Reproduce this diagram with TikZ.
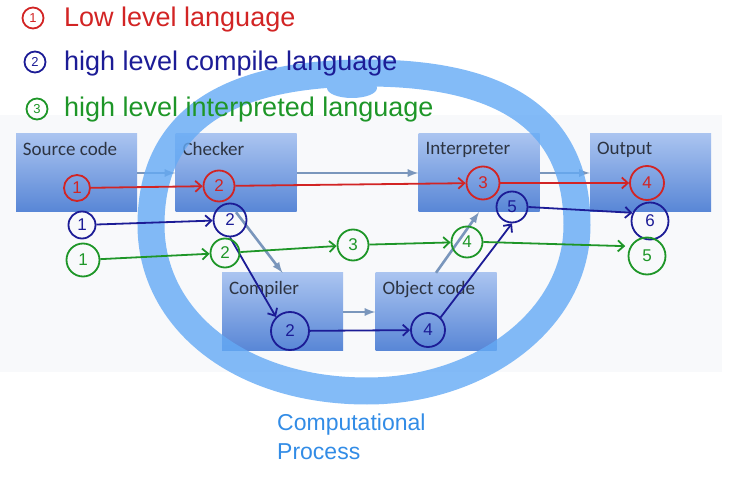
\documentclass[tikz,border=0pt]{standalone}
\usepackage{fontspec}
\setmainfont{Liberation Sans}
\newfontfamily\slidefont{Carlito}
\usepackage{tikz}
\usetikzlibrary{calc,arrows.meta}

\definecolor{hred}{RGB}{210,36,36}
\definecolor{hblue}{RGB}{28,28,150}
\definecolor{hgreen}{RGB}{30,150,40}
\definecolor{hsky}{RGB}{50,140,230}
\definecolor{ringblue}{RGB}{100,170,245}
\definecolor{boxtop}{RGB}{170,196,240}
\definecolor{boxbot}{RGB}{88,134,214}
\definecolor{flowgray}{RGB}{122,150,188}
\definecolor{labelgray}{RGB}{45,52,66}
\definecolor{slidebg}{RGB}{248,249,251}

\tikzset{
  box/.style={minimum width=121pt, minimum height=78pt, inner sep=0pt,
    top color=boxtop, bottom color=boxbot},
  boxlabel/.style={anchor=north west, xshift=7pt, yshift=-8pt, inner sep=0pt,
    text=labelgray, font=\slidefont\fontsize{19}{19}\selectfont},
  flow/.style={-latex, line width=2.6pt, draw=flowgray},
  handno/.style={circle, draw, line width=1.8pt, inner sep=0pt,
    font=\fontsize{17}{17}\selectfont},
  hand/.style={line width=1.8pt, -{Straight Barb[length=6pt,width=11pt]}},
  legend/.style={anchor=west, inner sep=0pt, font=\fontsize{27}{27}\selectfont},
}

\begin{document}
\begin{tikzpicture}[x=1pt, y=-1pt]
  \useasboundingbox (0,0) rectangle (740,481);
  \fill[slidebg] (0,115) rectangle (722,372);

  % slide boxes
  \node[box, label={[boxlabel]north west:Source code}] (srccode) at (76.5,173) {};
  \node[box, label={[boxlabel]north west:Checker}] (checker) at (236,173) {};
  \node[box, label={[boxlabel]north west:Interpreter}] (interp) at (479,173) {};
  \node[box, label={[boxlabel]north west:Output}] (output) at (650.5,173) {};
  \node[box, label={[boxlabel]north west:Compiler}] (compiler) at (282.5,312) {};
  \node[box, label={[boxlabel]north west:Object code}] (objcode) at (436,312) {};

  \draw[flow] (srccode) -- (checker);
  \draw[flow] (checker) -- (interp);
  \draw[flow] (interp) -- (output);
  \draw[flow] (checker.south) -- (compiler.north);
  \draw[flow] (compiler) -- (objcode);
  \draw[flow] (objcode.north) -- (interp.south);

  % ring
  \begin{scope}[transparency group, opacity=0.8]
    \draw[ringblue, line width=27pt] (367,73)
      .. controls (510,73) and (577,125) .. (577,225)
      .. controls (577,320) and (480,391) .. (367,391)
      .. controls (240,391) and (151,320) .. (151,225)
      .. controls (151,115) and (235,73) .. cycle;
    \fill[ringblue] (352,88) ellipse (25pt and 10pt);
  \end{scope}

  % legend
  \node[handno, hred, minimum size=21pt, font=\fontsize{13}{13}\selectfont] (l1) at (33,18) {1};
  \node[legend, hred] (t1) at (64,20) {Low level language};
  \node[handno, hblue, minimum size=21pt, font=\fontsize{13}{13}\selectfont] (l2) at (35,62) {2};
  \node[legend, hblue] (t2) at (64,64) {high level compile language};
  \node[handno, hgreen, minimum size=21pt, font=\fontsize{13}{13}\selectfont] (l3) at (37,109) {3};
  \node[legend, hgreen] (t3) at (64,110) {high level interpreted language};

  % low level path
  \node[handno, hred, minimum size=26pt] (r1) at (77,188) {1};
  \node[handno, hred, minimum size=31pt] (r2) at (219,186) {2};
  \node[handno, hred, minimum size=33pt] (r3) at (483,183) {3};
  \node[handno, hred, minimum size=34pt] (r4) at (647,183) {4};
  \draw[hand, hred] (r1) -- (r2);
  \draw[hand, hred] (r2) -- (r3);
  \draw[hand, hred] (r3) -- (r4);

  % compiled path
  \node[handno, hblue, minimum size=27pt] (b1) at (82,225) {1};
  \node[handno, hblue, minimum size=33pt] (b2) at (230,220) {2};
  \node[handno, hblue, minimum size=38pt] (b2b) at (290,331) {2};
  \node[handno, hblue, minimum size=34pt] (b4) at (428,330) {4};
  \node[handno, hblue, minimum size=31pt] (b5) at (512,207) {5};
  \node[handno, hblue, minimum size=37pt] (b6) at (650,221) {6};
  \draw[hand, hblue] (b1) -- (b2);
  \draw[hand, hblue] (b2.south) -- (b2b.north west);
  \draw[hand, hblue] (b2b) -- (b4);
  \draw[hand, hblue] (b4.north east) -- (b5.south);
  \draw[hand, hblue] (b5.east) -- (b6.155);

  % interpreted path
  \node[handno, hgreen, minimum size=33pt] (g1) at (83,260) {1};
  \node[handno, hgreen, minimum size=29pt] (g2) at (225,253) {2};
  \node[handno, hgreen, minimum size=31pt] (g3) at (353,245) {3};
  \node[handno, hgreen, minimum size=31pt] (g4) at (467,242) {4};
  \node[handno, hgreen, minimum size=37pt] (g5) at (647,256) {5};
  \draw[hand, hgreen] (g1) -- (g2);
  \draw[hand, hgreen] (g2) -- (g3);
  \draw[hand, hgreen] (g3) -- (g4);
  \draw[hand, hgreen, shorten >=5pt] (g4.east) -- (g5.150);

  \node[hsky, anchor=north west, align=left, inner sep=0pt,
    font=\fontsize{23}{29}\selectfont] (comp) at (277,414) {Computational\\Process};
\end{tikzpicture}
\end{document}
